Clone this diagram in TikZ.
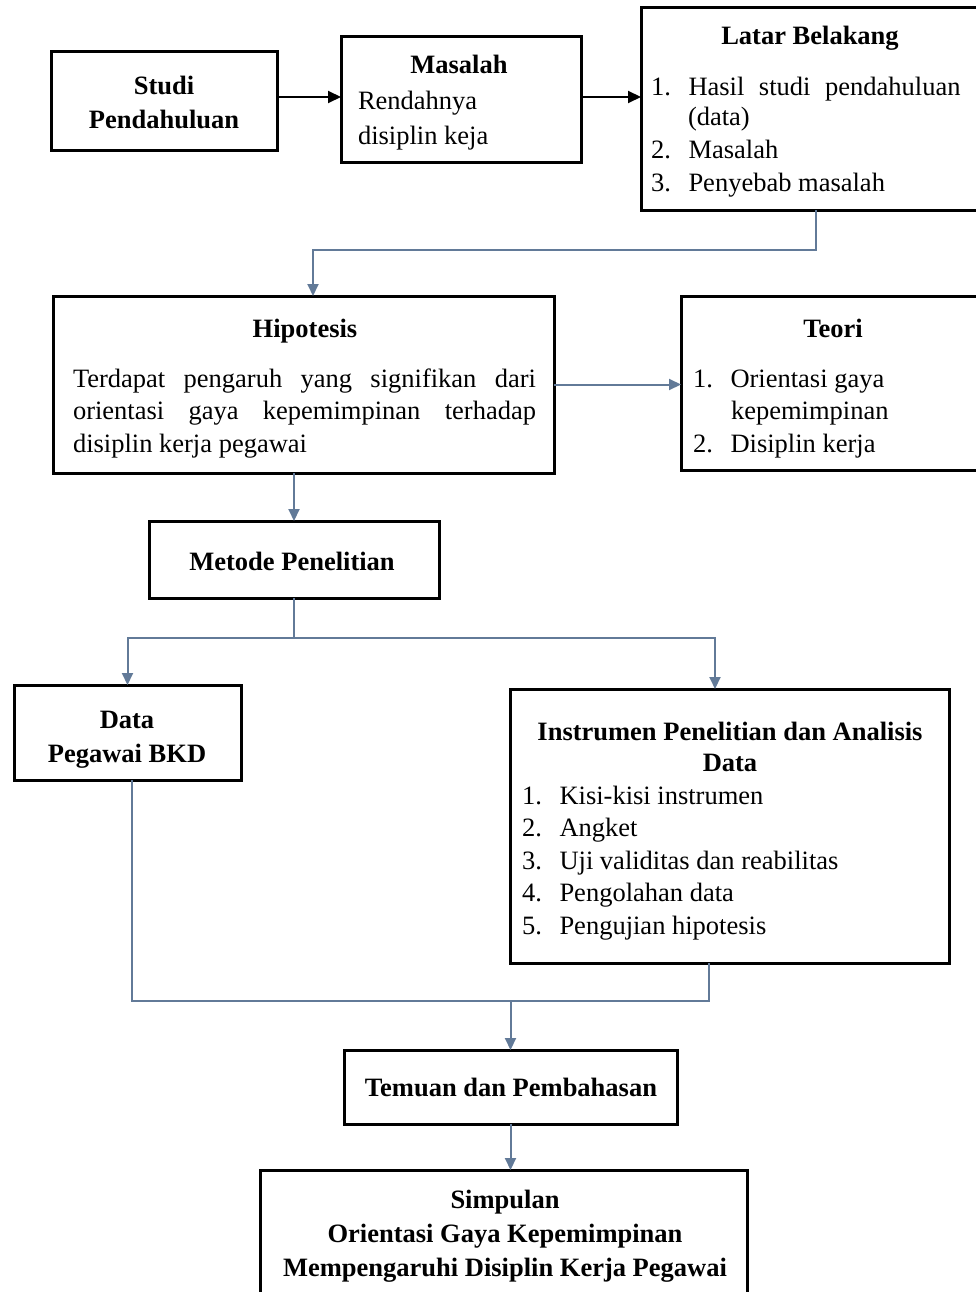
\documentclass[tikz,border=0pt]{standalone}
\usepackage{fontspec}
\setmainfont{Liberation Serif}
\usetikzlibrary{arrows.meta,calc}
\definecolor{conn}{RGB}{98,122,152}
\newcommand{\itm}[2]{\makebox[37.5pt][l]{#1}#2}
\begin{document}
\begin{tikzpicture}[x=1pt,y=-1pt,
  every node/.style={inner sep=0pt, outer sep=0pt, font=\fontsize{26.5pt}{32.5pt}\selectfont},
  bf/.style={font=\fontsize{26.5pt}{32.5pt}\selectfont\bfseries},
  box/.style={draw=black, line width=3pt},
  txt/.style={anchor=base},
  txtl/.style={anchor=base west},
  link/.style={draw=conn, line width=2pt},
  barrow/.style={draw=black, line width=2pt, -{Triangle[length=13pt,width=12pt]}},
  carrow/.style={link, -{Triangle[length=12pt,width=11pt]}, color=conn},
]
\useasboundingbox (0,0) rectangle (976,1292);
\fill[white] (0,0) rectangle (976,1292);

% ---------- boxes ----------
\node[box, minimum width=226pt, minimum height=99pt]  (studi)  at (164,101.5) {};
\node[box, minimum width=240pt, minimum height=126pt] (masalah) at (461,100) {};
\node[box, minimum width=349pt, minimum height=202pt] (latar)  at (815.5,109) {};
\node[box, minimum width=501pt, minimum height=177pt] (hipo)   at (303.5,384.5) {};
\node[box, minimum width=309pt, minimum height=174pt] (teori)  at (835.5,383) {};
\node[box, minimum width=290pt, minimum height=77pt]  (metode) at (294,559.5) {};
\node[box, minimum width=227pt, minimum height=95pt]  (data)   at (127.5,732.5) {};
\node[box, minimum width=439pt, minimum height=274pt] (instr)  at (729.5,826) {};
\node[box, minimum width=333pt, minimum height=74pt]  (temuan) at (510.5,1087) {};
\node[box, minimum width=487pt, minimum height=140pt] (simp)   at (503.5,1240) {};

% ---------- texts ----------
\node[txt,bf] (t1a) at (164,95) {Studi};
\node[txt,bf] (t1b) at (164,129) {Pendahuluan};

\node[txt,bf] (t2a) at (459,74) {Masalah};
\node[txtl] (t2b) at (358,110) {Rendahnya};
\node[txtl] (t2c) at (358,145) {disiplin keja};

\node[txt,bf] (t3a) at (810,45) {Latar Belakang};
\node[txtl] (t3b) at (651,95.5) {\itm{1.}{\makebox[272pt][s]{Hasil studi pendahuluan}}};
\node[txtl] (t3c) at (688,126) {(data)};
\node[txtl] (t3d) at (651,158.5) {\itm{2.}{Masalah}};
\node[txtl] (t3e) at (651,191) {\itm{3.}{Penyebab masalah}};

\node[txt,bf] (t4a) at (305,337) {Hipotesis};
\node[txtl] (t4b) at (73,387) {\makebox[463pt][s]{Terdapat pengaruh yang signifikan dari}};
\node[txtl] (t4c) at (73,419.5) {\makebox[463pt][s]{orientasi gaya kepemimpinan terhadap}};
\node[txtl] (t4d) at (73,452) {disiplin kerja pegawai};

\node[txt,bf] (t5a) at (833,337) {Teori};
\node[txtl] (t5b) at (693,387) {\itm{1.}{Orientasi gaya}};
\node[txtl] (t5c) at (731,419.5) {kepemimpinan};
\node[txtl] (t5d) at (693,452) {\itm{2.}{Disiplin kerja}};

\node[txt,bf] (t6) at (292,570) {Metode Penelitian};

\node[txt,bf] (t7a) at (127,728) {Data};
\node[txt,bf] (t7b) at (127,762) {Pegawai BKD};

\node[txt,bf] (t8a) at (730,740) {Instrumen Penelitian dan Analisis};
\node[txt,bf] (t8b) at (730,771) {Data};
\node[txtl] (t8c) at (522,804) {\itm{1.}{Kisi-kisi instrumen}};
\node[txtl] (t8d) at (522,836.5) {\itm{2.}{Angket}};
\node[txtl] (t8e) at (522,869) {\itm{3.}{Uji validitas dan reabilitas}};
\node[txtl] (t8f) at (522,901.5) {\itm{4.}{Pengolahan data}};
\node[txtl] (t8g) at (522,934) {\itm{5.}{Pengujian hipotesis}};

\node[txt,bf] (t9) at (511,1096) {Temuan dan Pembahasan};

\node[txt,bf] (t10a) at (505,1208) {Simpulan};
\node[txt,bf] (t10b) at (505,1242) {Orientasi Gaya Kepemimpinan};
\node[txt,bf] (t10c) at (505,1276) {Mempengaruhi Disiplin Kerja Pegawai};

% ---------- connectors ----------
\draw[barrow] ([yshift=4.5pt]studi.east) coordinate (a1) -- (a1 -| masalah.west);
\draw[barrow] ([yshift=3pt]masalah.east) coordinate (a2) -- (a2 -| latar.west);

\draw[carrow] (latar.south) -- ++(0,40) -| ([xshift=9.5pt]hipo.north);
\draw[carrow] (hipo.east) -- (hipo.east -| teori.west);
\draw[carrow] (metode.north |- hipo.south) -- (metode.north);

\draw[link] (metode.south) -- ++(0,40) coordinate (m1);
\draw[carrow] (m1) -| (data.north);
\draw[carrow] (m1) -| ([xshift=-14.5pt]instr.north);

\coordinate (j) at (510.5,1001);
\draw[link] ([xshift=4.5pt]data.south) |- ([xshift=-20.5pt]instr.south |- j) -- ([xshift=-20.5pt]instr.south);
\draw[carrow] (j) -- (temuan.north);
\draw[carrow] (temuan.south) -- (temuan.south |- simp.north);
\end{tikzpicture}
\end{document}
